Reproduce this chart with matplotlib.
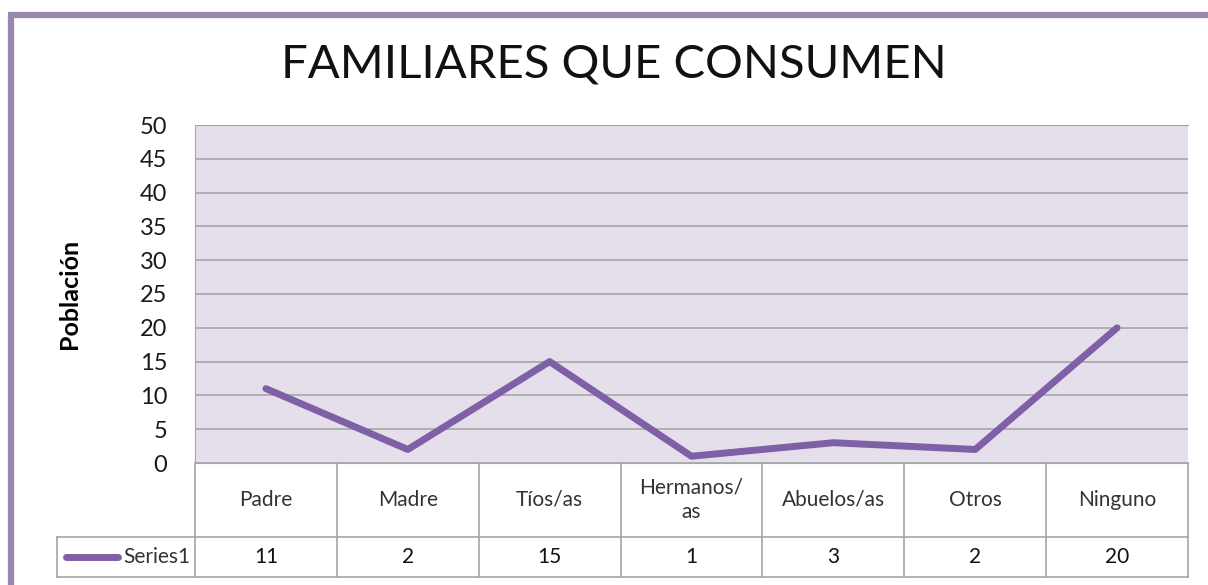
import matplotlib.pyplot as plt
from matplotlib.lines import Line2D
from matplotlib.transforms import blended_transform_factory

# Data
categories = ['Padre', 'Madre', 'Tíos/as', 'Hermanos/\nas', 'Abuelos/as', 'Otros', 'Ninguno']
values = [11, 2, 15, 1, 3, 2, 20]
series_name = 'Series1'
yticks = list(range(0, 55, 5))

plt.rcParams['font.family'] = ['Lato', 'DejaVu Sans']

W, H = 1208, 585
fig = plt.figure(figsize=(W / 100, H / 100), dpi=100)

# plot area in pixels: x 195-1188, y 125-463
x0, x1, y0, y1 = 195, 1188, 125, 463
ax = fig.add_axes([x0 / W, 1 - y1 / H, (x1 - x0) / W, (y1 - y0) / H])

purple = '#7F5FA5'
grid_c = '#A6A6A6'

ax.set_facecolor('#E5DFEC')
x = list(range(len(categories)))
ax.plot(x, values, color=purple, lw=5, solid_capstyle='round', zorder=3)
ax.set_xlim(-0.5, len(categories) - 0.5)
ax.set_ylim(0, 50)
ax.set_yticks(yticks)
ax.set_yticklabels([str(v) for v in yticks], fontsize=17, color='#1a1a1a')
ax.set_xticks([])
ax.tick_params(axis='y', length=0, pad=20)
ax.yaxis.grid(True, color=grid_c, lw=1.2)
ax.set_axisbelow(True)
for s in ['top', 'bottom', 'left']:
    ax.spines[s].set_color(grid_c)
ax.spines['right'].set_visible(False)
ax.set_ylabel('Población', fontsize=18, fontweight='bold', labelpad=42)

# data table below the axes
h_rows = 338.0
r1 = -74 / h_rows
r2 = -114 / h_rows
left = -0.5 - 138 / (993 / 7)
tr = blended_transform_factory(ax.transData, ax.transAxes)
n = len(categories)
lk = dict(color=grid_c, lw=1.2, transform=tr, clip_on=False)
ax.add_line(Line2D([-0.5, n - 0.5], [r1, r1], **lk))
ax.add_line(Line2D([left, n - 0.5], [r2, r2], **lk))
ax.add_line(Line2D([left, -0.5], [r1, r1], **lk))
ax.add_line(Line2D([left, left], [r1, r2], **lk))
for i in range(n + 1):
    ax.add_line(Line2D([i - 0.5, i - 0.5], [0, r2], **lk))
for i, (c, v) in enumerate(zip(categories, values)):
    ax.text(i, r1 / 2, c, transform=tr, ha='center', va='center',
            fontsize=15, color='#333333', linespacing=1.3)
    ax.text(i, (r1 + r2) / 2, str(v), transform=tr, ha='center', va='center',
            fontsize=15, color='#111111')
# legend key in the table
ax.add_line(Line2D([left + 0.06, left + 0.43], [(r1 + r2) / 2] * 2, color=purple,
                   lw=5, solid_capstyle='round', transform=tr, clip_on=False))
ax.text(-0.53, (r1 + r2) / 2, series_name, transform=tr, ha='right', va='center',
        fontsize=15, color='#333333')

# title
fig.text(614 / W, 1 - 65 / H, 'FAMILIARES QUE CONSUMEN', ha='center', va='center',
         fontsize=34, color='#111111')

# purple frame (left and top edges)
fc = '#9A88AC'
fig.add_artist(Line2D([11 / W, 11 / W], [0, 1 - 15 / H], color=fc, lw=4.5,
                      transform=fig.transFigure, solid_capstyle='butt'))
fig.add_artist(Line2D([8 / W, 1], [1 - 15 / H, 1 - 15 / H], color=fc, lw=4.5,
                      transform=fig.transFigure, solid_capstyle='butt'))

fig.savefig('out.png', dpi=100)
